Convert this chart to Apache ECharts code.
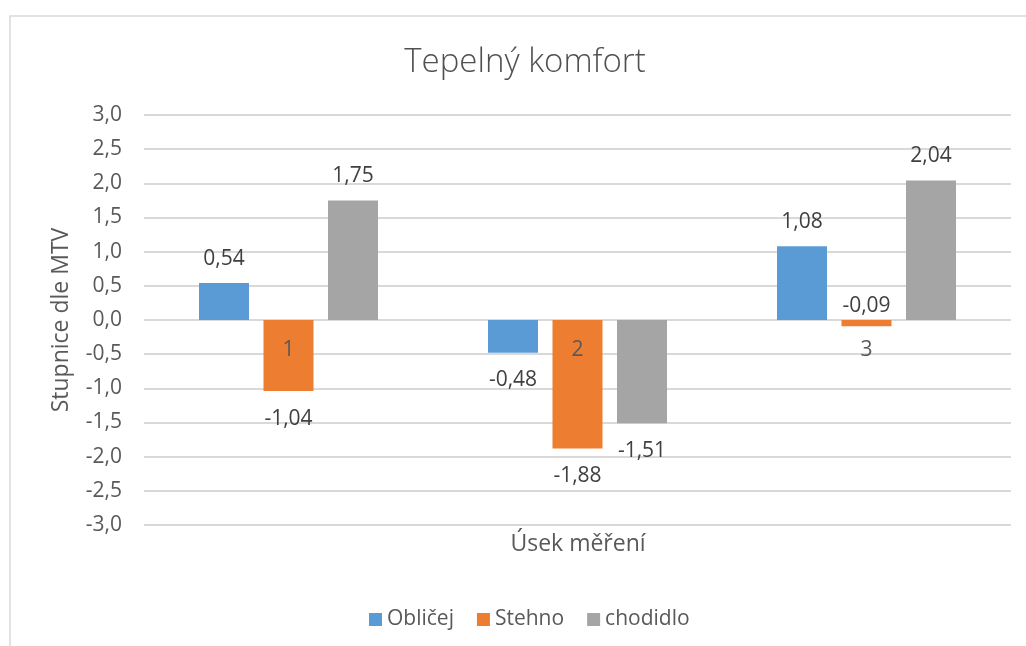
<!DOCTYPE html>
<html>
<head>
<meta charset="utf-8">
<script src="https://cdn.jsdelivr.net/npm/echarts@6/dist/echarts.min.js"></script>
<style>
  html, body { margin: 0; padding: 0; background: #ffffff; }
  #chart { width: 1026px; height: 646px; }
</style>
</head>
<body>
<div id="chart"></div>
<script>
// Measurement sections and the three body locations
const categories = ['1', '2', '3'];
const seriesNames = ['Obličej', 'Stehno', 'chodidlo'];
const oblicej = [0.54, -0.48, 1.08];
const stehno = [-1.04, -1.88, -0.09];
const chodidlo = [1.75, -1.51, 2.04];
const seriesValues = [oblicej, stehno, chodidlo];
const seriesColors = ['#5B9BD5', '#ED7D31', '#A5A5A5'];
const Y_MIN = -3, Y_MAX = 3, Y_STEP = 0.5;
const Y_TITLE = 'Stupnice dle MTV';
const X_TITLE = 'Úsek měření';

const FONT = 'Open Sans';
const AXIS_TEXT = '#595959';
const LABEL_TEXT = '#404040';

const GRID = { left: 144, right: 15, top: 115, bottom: 121 };
const plotHeight = 646 - GRID.top - GRID.bottom;
// lift the category axis from the bottom of the grid up to the zero value
const zeroOffset = -plotHeight * (0 - Y_MIN) / (Y_MAX - Y_MIN);

const fmt = (v, d) => v.toFixed(d).replace('.', ',');

// Label sits above positive bars and below negative ones; a very short
// negative bar would collide with the category label, so its label goes above.
function labelFor(v) {
  let position = v >= 0 ? 'top' : 'bottom';
  let distance = v >= 0 ? 14 : 17;
  if (v < 0 && Math.abs(v) < 0.25) { position = 'top'; distance = 3; }
  return { position, distance };
}

const series = seriesNames.map((name, i) => ({
  name,
  type: 'bar',
  barWidth: 50,
  barGap: '29%',
  itemStyle: { color: seriesColors[i] },
  data: seriesValues[i].map(v => ({
    value: v,
    label: Object.assign({
      show: true,
      color: LABEL_TEXT,
      fontFamily: FONT,
      fontSize: 21,
      formatter: p => fmt(p.value, 2)
    }, labelFor(v))
  }))
}));

const chart = echarts.init(document.getElementById('chart'), null, { renderer: 'canvas' });
chart.setOption({
  animation: false,
  backgroundColor: '#ffffff',
  textStyle: { fontFamily: FONT },
  graphic: [{
    // chart area frame
    type: 'rect',
    shape: { x: 10, y: 16, width: 1030, height: 640 },
    style: { fill: 'none', stroke: '#d9d9d9', lineWidth: 1.5 },
    z: -10
  }, {
    // vertical axis title, centred on the plot height
    type: 'text',
    x: 61,
    y: GRID.top + plotHeight / 2,
    rotation: Math.PI / 2,
    style: {
      text: Y_TITLE,
      fontFamily: FONT,
      fontSize: 23,
      fill: AXIS_TEXT,
      align: 'center',
      verticalAlign: 'middle'
    }
  }],
  title: [{
    text: 'Tepelný komfort',
    left: 525,
    top: 46,
    textAlign: 'center',
    padding: 0,
    textStyle: { fontFamily: FONT, fontSize: 33, fontWeight: 300, color: '#505050' }
  }, {
    text: X_TITLE,
    left: 578,
    top: 533,
    textAlign: 'center',
    padding: 0,
    textStyle: { fontFamily: FONT, fontSize: 23, fontWeight: 'normal', color: AXIS_TEXT }
  }],
  legend: {
    data: seriesNames,
    bottom: 16,
    left: 369,
    padding: 0,
    itemWidth: 13,
    itemHeight: 13,
    itemGap: 23,
    icon: 'rect',
    textStyle: { fontFamily: FONT, fontSize: 21, color: AXIS_TEXT }
  },
  grid: Object.assign({ containLabel: false }, GRID),
  xAxis: {
    type: 'category',
    data: categories,
    z: 5,
    position: 'bottom',
    offset: zeroOffset,
    // the zero gridline comes from the value axis
    axisLine: { show: false, onZero: false },
    axisTick: { show: false },
    axisLabel: { margin: 20, fontFamily: FONT, fontSize: 21, color: AXIS_TEXT },
    splitLine: { show: false }
  },
  yAxis: {
    type: 'value',
    min: Y_MIN,
    max: Y_MAX,
    interval: Y_STEP,
    axisLine: { show: false },
    axisTick: { show: false },
    axisLabel: { margin: 22, fontFamily: FONT, fontSize: 21, color: AXIS_TEXT, formatter: v => fmt(v, 1) },
    splitLine: { lineStyle: { color: '#d9d9d9', width: 2 } }
  },
  series
});
</script>
</body>
</html>
